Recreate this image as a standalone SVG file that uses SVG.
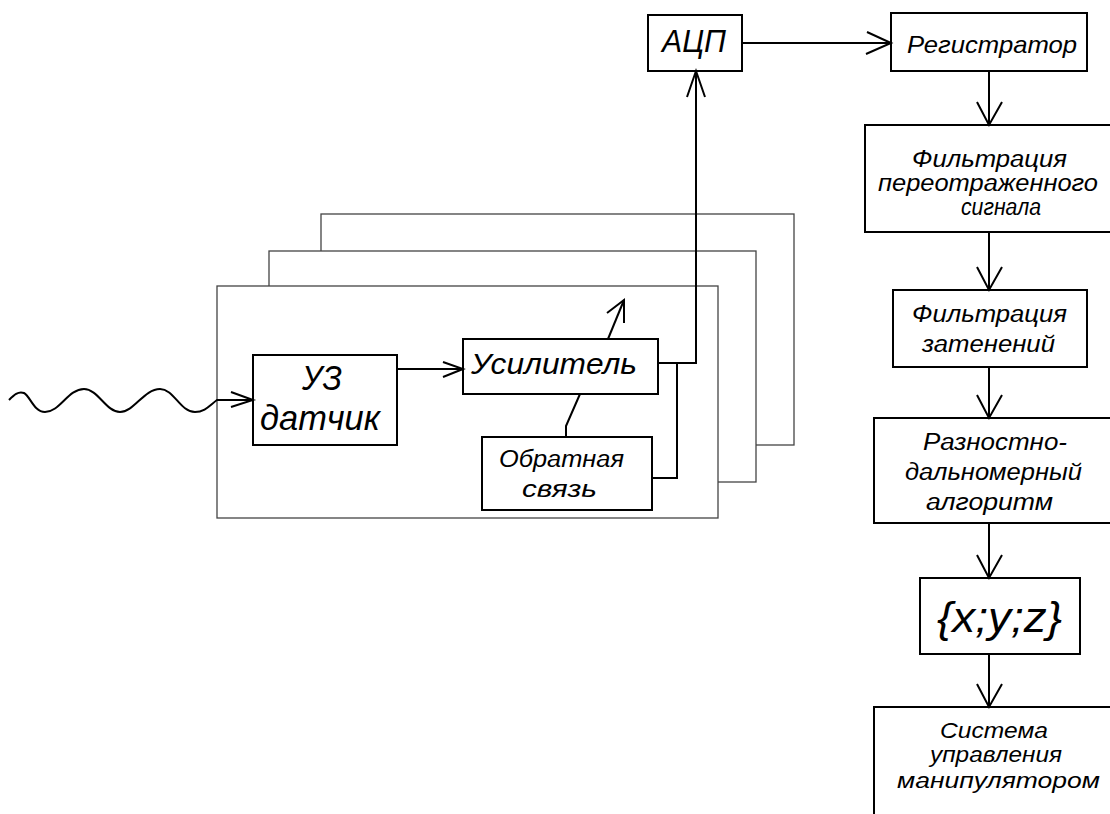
<svg xmlns="http://www.w3.org/2000/svg" width="1110" height="814" viewBox="0 0 1110 814">
<style>
.frame{fill:#fff;stroke:#444;stroke-width:1.3}
.box{fill:#fff;stroke:#000;stroke-width:2}
.ln{fill:none;stroke:#000;stroke-width:2;stroke-linejoin:miter}
.t{font-family:"Liberation Sans",Arial,sans-serif;font-style:italic;fill:#000}
</style>
<rect width="1110" height="814" fill="#fff"/>
<g id="frames">
<rect class="frame" x="321" y="214" width="473" height="231"/>
<rect class="frame" x="269" y="251" width="487" height="231"/>
<rect class="frame" x="217" y="286" width="501" height="232"/>
</g>
<g id="node-uz">
<rect class="box" x="253" y="355" width="144" height="90"/>
<text class="t" x="302" y="390" font-size="35" textLength="40" lengthAdjust="spacingAndGlyphs">УЗ</text>
<text class="t" x="260" y="430" font-size="35" textLength="120" lengthAdjust="spacingAndGlyphs">датчик</text>
</g>
<g id="node-amp">
<rect class="box" x="463" y="339" width="195" height="55"/>
<text class="t" x="471" y="374" font-size="30" textLength="166" lengthAdjust="spacingAndGlyphs">Усилитель</text>
</g>
<g id="node-fb">
<rect class="box" x="482" y="437" width="170" height="73"/>
<text class="t" x="499" y="467" font-size="23" textLength="125" lengthAdjust="spacingAndGlyphs">Обратная</text>
<text class="t" x="522" y="497" font-size="23" textLength="75" lengthAdjust="spacingAndGlyphs">связь</text>
</g>
<g id="node-adc">
<rect class="box" x="648" y="15" width="94" height="56"/>
<text class="t" x="662" y="52" font-size="32" textLength="64" lengthAdjust="spacingAndGlyphs">АЦП</text>
</g>
<g id="node-reg">
<rect class="box" x="891" y="13" width="196" height="58"/>
<text class="t" x="907" y="53" font-size="24" textLength="170" lengthAdjust="spacingAndGlyphs">Регистратор</text>
</g>
<g id="node-filt1">
<rect class="box" x="865" y="125" width="250" height="107"/>
<text class="t" x="912" y="167" font-size="23" textLength="155" lengthAdjust="spacingAndGlyphs">Фильтрация</text>
<text class="t" x="878" y="191" font-size="23" textLength="220" lengthAdjust="spacingAndGlyphs">переотраженного</text>
<text class="t" x="961" y="215" font-size="23" textLength="80" lengthAdjust="spacingAndGlyphs">сигнала</text>
</g>
<g id="node-filt2">
<rect class="box" x="893" y="290" width="194" height="77"/>
<text class="t" x="912" y="322" font-size="23" textLength="155" lengthAdjust="spacingAndGlyphs">Фильтрация</text>
<text class="t" x="922" y="352" font-size="23" textLength="133" lengthAdjust="spacingAndGlyphs">затенений</text>
</g>
<g id="node-algo">
<rect class="box" x="874" y="418" width="250" height="105"/>
<text class="t" x="923" y="450" font-size="23" textLength="144" lengthAdjust="spacingAndGlyphs">Разностно-</text>
<text class="t" x="905" y="480" font-size="23" textLength="177" lengthAdjust="spacingAndGlyphs">дальномерный</text>
<text class="t" x="926" y="510" font-size="23" textLength="127" lengthAdjust="spacingAndGlyphs">алгоритм</text>
</g>
<g id="node-xyz">
<rect class="box" x="920" y="578" width="160" height="76"/>
<text class="t" x="937" y="632" font-size="42" textLength="125" lengthAdjust="spacingAndGlyphs">{x;y;z}</text>
</g>
<g id="node-ctrl">
<rect class="box" x="874" y="707" width="250" height="130"/>
<text class="t" x="940" y="738" font-size="22" textLength="108" lengthAdjust="spacingAndGlyphs">Система</text>
<text class="t" x="930" y="762" font-size="22" textLength="132" lengthAdjust="spacingAndGlyphs">управления</text>
<text class="t" x="897" y="788" font-size="22" textLength="203" lengthAdjust="spacingAndGlyphs">манипулятором</text>
</g>
<g id="connectors" class="ln">
<path d="M9,400 C14,395 18,391 24,393 C30,396 34,412 45,412 C60,412 68,389 84,389 C98,389 106,412 120,412 C134,412 144,389 160,389 C174,389 180,412 195,412 C205,412 210,405 217,400 L253,400"/>
<path d="M231,392 L253,400 L231,407"/>
<path d="M397,369 L463,369"/>
<path d="M443,362 L463,369 L443,377"/>
<path d="M658,363 L696,363 L696,71"/>
<path d="M687,97 L696,71 L705,97"/>
<path d="M677,363 L677,478 L652,478"/>
<path d="M608,339 L624,300"/>
<path d="M607,313 L624,300 L624,323"/>
<path d="M566,437 L566,426 L580,394"/>
<path d="M742,43 L891,43"/>
<path d="M867,32 L891,43 L866,54"/>
<path d="M989,71 L989,125 M977,102 L989,125 L1002,102"/>
<path d="M989,232 L989,290 M977,267 L989,290 L1002,267"/>
<path d="M989,367 L989,418 M977,395 L989,418 L1002,395"/>
<path d="M989,523 L989,578 M977,555 L989,578 L1002,555"/>
<path d="M989,654 L989,707 M977,684 L989,707 L1002,684"/>
</g>
</svg>
